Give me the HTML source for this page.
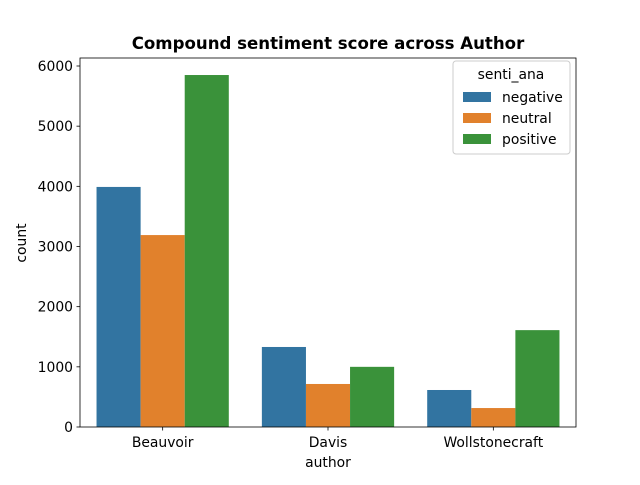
<!DOCTYPE html>
<html><head><meta charset="utf-8"><style>body{margin:0;background:#fff}svg text{font-family:"DejaVu Sans","Liberation Sans",sans-serif}</style></head>
<body>
<svg id="chart" width="640" height="480" xmlns="http://www.w3.org/2000/svg">
<rect width="640" height="480" fill="#fff"/>
<text x="328" y="49" text-anchor="middle" font-size="16.6" font-weight="bold">Compound sentiment score across Author</text>
<g id="bars"></g>
<g id="axes"></g>
<text x="328" y="467" text-anchor="middle" font-size="13.9">author</text>
<text transform="translate(26,243) rotate(-90)" text-anchor="middle" font-size="13.9">count</text>
<g>
<rect x="453" y="61" width="117" height="93" fill="#fff" stroke="#ccc" rx="3"/>
<text x="511" y="79" text-anchor="middle" font-size="13.9">senti_ana</text>
<g id="legend-items"></g>
</g>
</svg>
<script>
const categories = ["Beauvoir", "Davis", "Wollstonecraft"];
const seriesNames = ["negative", "neutral", "positive"];
const negative = [3990, 1330, 615];
const neutral = [3190, 715, 315];
const positive = [5850, 1000, 1610];
const yTicks = [0, 1000, 2000, 3000, 4000, 5000, 6000];
const colors = ["#3274a1", "#e1812c", "#3a923a"];
const series = [negative, neutral, positive];
const L = 80, R = 576, T = 58, B = 427;
const ns = "http://www.w3.org/2000/svg";
const y = v => B - v * (B - 66) / 6000;
const step = (R - L) / categories.length;
const xc = i => L + step * (i + 0.5);
const bw = step * 0.8 / 3;
const bars = document.getElementById('bars');
function mk(tag, attrs, parent) { const e = document.createElementNS(ns, tag); for (const k in attrs) e.setAttribute(k, attrs[k]); parent.appendChild(e); return e; }
series.forEach((s, si) => s.forEach((v, ci) => {
  const r = mk('rect', {x: xc(ci) - 1.5 * bw + si * bw, y: y(v), width: bw, height: B - y(v), fill: colors[si]}, bars);
  
  
}));
const axes = document.getElementById('axes');
mk('rect', {x: L, y: T, width: R - L, height: B - T, fill: 'none', stroke: '#000', 'stroke-width': 0.8}, axes);
yTicks.forEach(t => {
  mk('line', {x1: L - 3.5, x2: L, y1: y(t), y2: y(t), stroke: '#000', 'stroke-width': 0.8}, axes);
  const tx = mk('text', {x: L - 7, y: y(t) + 5, 'text-anchor': 'end', 'font-size': 13.9}, axes);
  tx.textContent = t;
  
  
});
categories.forEach((c, i) => {
  mk('line', {x1: xc(i), x2: xc(i), y1: B, y2: B + 3.5, stroke: '#000', 'stroke-width': 0.8}, axes);
  const tx = mk('text', {x: xc(i), y: B + 20, 'text-anchor': 'middle', 'font-size': 13.9}, axes);
  tx.textContent = c;
  
  
});
const li = document.getElementById('legend-items');
seriesNames.forEach((n, i) => {
  const g = mk('g', {}, li);
  
  
  mk('rect', {x: 463, y: 92 + i * 21, width: 28, height: 10, fill: colors[i]}, g);
  const t = mk('text', {x: 474 + 28, y: 102 + i * 21, 'font-size': 13.9}, g);
  t.textContent = n;
});
</script>
</body></html>
